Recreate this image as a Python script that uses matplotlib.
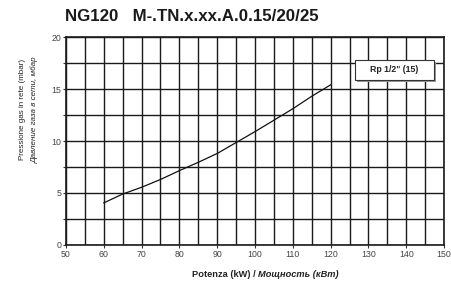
import matplotlib

matplotlib.use("Agg")
import matplotlib.pyplot as plt
import numpy as np
from matplotlib.patches import Rectangle

# Curve.
power_kw = [60, 65, 70, 75, 80, 85, 90, 95, 100, 105, 110, 115, 120]
pressure_mbar = [4.05, 4.9, 5.55, 6.3, 7.15, 7.95, 8.8, 9.85, 10.9, 12.0, 13.1, 14.3, 15.4]

x_ticks = list(range(50, 151, 10))
y_ticks = [0, 5, 10, 15, 20]
title = "NG120   M-.TN.x.xx.A.0.15/20/25"
legend_label = 'Rp 1/2" (15)'

plt.rcParams["font.family"] = ["Liberation Sans", "DejaVu Sans"]

fig = plt.figure(figsize=(4.51, 2.83), dpi=100)
ax = fig.add_axes([0.1463, 0.1343, 0.8382, 0.7349])

ax.set_xlim(50, 150)
ax.set_ylim(0, 20)
ax.set_xticks(x_ticks)
ax.set_yticks(y_ticks)
ax.set_xticks(np.arange(50, 151, 5), minor=True)
ax.set_yticks(np.arange(0, 20.1, 2.5), minor=True)
ax.grid(True, which="both", color="#1a1a1a", lw=1.0)
ax.set_axisbelow(True)
ax.tick_params(which="both", length=2.5, width=0.8, labelsize=6.3, pad=1,
               colors="#333333", labelcolor="#444444")
ax.tick_params(axis="x", which="minor", length=0)
for s in ax.spines.values():
    s.set_color("#1a1a1a")
    s.set_linewidth(1.2)

ax.plot(power_kw, pressure_mbar, color="#111111", lw=0.9)

fig.text(0.144, 0.94, title, fontsize=12.2, fontweight="bold", color="#1a1a1a",
         ha="left", va="center")

fig.text(0.049, 0.612, "Pressione gas in rete (mbar)", rotation=90, fontsize=5.8,
         ha="center", va="center", color="#222222")
fig.text(0.078, 0.612, "Давление газа в сети, мбар", rotation=90, fontsize=5.8,
         style="italic", ha="center", va="center", color="#222222")

fig.text(0.572, 0.03, "Potenza (kW) / ", fontsize=6.7, fontweight="bold",
         ha="right", va="center", color="#222222")
fig.text(0.572, 0.03, "Мощность (кВт)", fontsize=6.7, fontweight="bold",
         style="italic", ha="left", va="center", color="#222222")

# legend box with shadow (figure pixel coordinates)
shadow = Rectangle((357, 201), 79, 20, transform=None, facecolor="#9a9a9a",
                   edgecolor="none", zorder=5)
box = Rectangle((355, 203), 79, 20, transform=None, facecolor="white",
                edgecolor="#333333", lw=0.8, zorder=6)
fig.patches.extend([shadow, box])
fig.text(394.5 / 451, 1 - 70 / 283, legend_label, fontsize=6.3, fontweight="bold",
         ha="center", va="center", color="#222222", zorder=7)

fig.savefig("out.png", dpi=100)
